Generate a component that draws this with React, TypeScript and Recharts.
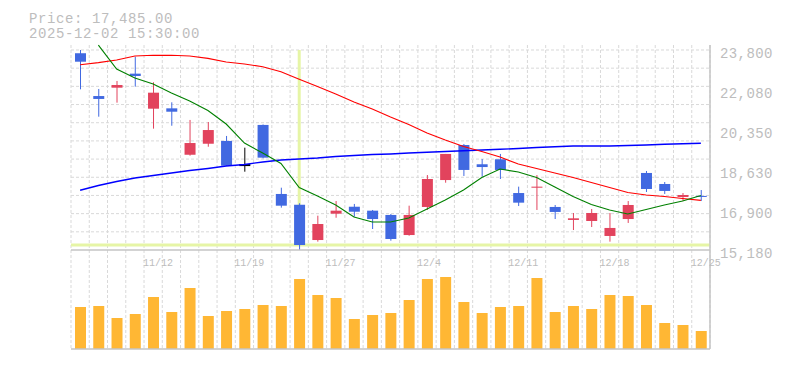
import React from 'react';
import { ComposedChart, Bar, Line, XAxis, YAxis, CartesianGrid, ReferenceLine } from 'recharts';

// trading days shown (35 sessions)
const dates = [
  '11/6', '11/7', '11/10', '11/11', '11/12', '11/13', '11/14', '11/17', '11/18', '11/19',
  '11/20', '11/21', '11/25', '11/26', '11/27', '11/28', '12/1', '12/2', '12/3', '12/4',
  '12/5', '12/8', '12/9', '12/10', '12/11', '12/12', '12/15', '12/16', '12/17', '12/18',
  '12/19', '12/22', '12/23', '12/24', '12/25',
];

const opens = [
  23660, 21815, 22175, 22780, 21270, 21285, 19285, 19760, 19880, 18840,
  20570, 17595, 17130, 15610, 16745, 17045, 16875, 16690, 15825, 17035,
  18195, 19705, 18875, 19090, 17635, 17865, 17035, 16475, 16430, 15785,
  16515, 18500, 18025, 17465, 17510,
];
const highs = [
  23800, 22120, 22465, 23510, 22410, 21545, 20785, 20695, 20095, 19590,
  20590, 17865, 17195, 16660, 17290, 17165, 16905, 16730, 17090, 18410,
  19320, 19750, 19100, 19320, 17910, 18410, 17120, 16775, 16945, 16775,
  17290, 18585, 18110, 17635, 17765,
];
const lows = [
  22105, 20925, 21530, 22220, 20410, 20535, 19245, 19630, 18800, 18555,
  19130, 17005, 15180, 15540, 16570, 16615, 16085, 15580, 15795, 16905,
  18080, 18370, 18340, 18240, 17075, 16905, 16515, 16040, 16170, 15540,
  16345, 17680, 17595, 17290, 17290,
];
const closes = [
  23295, 21690, 22290, 22680, 21960, 21140, 19790, 20350, 18815, 18840,
  19160, 17090, 15395, 16300, 16875, 16830, 16515, 15655, 16690, 18240,
  19320, 18630, 18755, 18630, 17220, 17910, 16820, 16545, 16775, 16130,
  17120, 17810, 17725, 17550, 17485,
];

// moving averages
const maShort = [
  null, 24010, 22980, 22595, 22335, 21945, 21600, 21190, 20610, 19790,
  19360, 18910, 17875, 17505, 17120, 16600, 16385, 16385, 16560, 16945,
  17335, 17765, 18305, 18670, 18540, 18305, 17895, 17485, 17140, 16905,
  16730, 16925, 17120, 17290, 17530,
];
const maMid = [
  23165, 23255, 23370, 23540, 23570, 23570, 23540, 23440, 23285, 23195,
  23080, 22865, 22535, 22225, 21905, 21560, 21255, 20910, 20590, 20225,
  19920, 19640, 19425, 19190, 18885, 18695, 18500, 18305, 18090, 17875,
  17660, 17550, 17485, 17400, 17320,
];
const maLong = [
  17755, 17960, 18130, 18285, 18390, 18500, 18605, 18695, 18800, 18865,
  18975, 19060, 19100, 19145, 19210, 19255, 19295, 19320, 19360, 19390,
  19425, 19460, 19490, 19520, 19555, 19600, 19630, 19660, 19660, 19660,
  19685, 19705, 19735, 19760, 19780,
];

const volumes = [
  4200, 4300, 3100, 3500, 5200, 3700, 6100, 3300, 3800, 4000,
  4400, 4300, 7000, 5400, 5100, 3000, 3400, 3600, 4900, 7000,
  7200, 4700, 3600, 4200, 4300, 7100, 3700, 4300, 4000, 5400,
  5300, 4400, 2600, 2400, 1800,
];

const xTickDates = ['11/12', '11/19', '11/27', '12/4', '12/11', '12/18', '12/25'];
const yTickValues = [15180, 16904, 18628, 20352, 22076, 23800];
const yTickLabels = ['15,180', '16,900', '18,630', '20,350', '22,080', '23,800'];

const priceLabel = 'Price: 17,485.00';
const timeLabel = '2025-12-02 15:30:00';

const UP = '#e2435d';
const DOWN = '#4169e1';
const FLAT = '#000000';
const VOL = '#ffb734';
const GRID = '#d9d9d9';
const AXIS = '#c4c4c4';
const TEXT = '#bdbdbd';
const CROSS = '#e6f5a6';
const FONT = '"Liberation Mono", "DejaVu Sans Mono", monospace';

const W = 785;
const PLOT_LEFT = 71;
const AXIS_W = 75;
const N = dates.length;
const PLOT_W = W - PLOT_LEFT - AXIS_W;
const BAND = PLOT_W / N;

const Y_MIN = 15180;
const Y_MAX = 23800;
const Y_TOP = 24015;
const gridLevels = Array.from({ length: 11 }, (_, j) => Y_MIN + ((j + 1) * (Y_MAX - Y_MIN)) / 11);

const data = dates.map((date, i) => ({
  date,
  open: opens[i],
  high: highs[i],
  low: lows[i],
  close: closes[i],
  range: [lows[i], highs[i]],
  maShort: maShort[i],
  maMid: maMid[i],
  maLong: maLong[i],
  volume: volumes[i],
}));

const crossDate = dates[12];
const crossPrice = closes[12];

const bandLines = ({ offset }: any) => {
  const left = offset?.left ?? PLOT_LEFT;
  const width = offset?.width ?? PLOT_W;
  return Array.from({ length: N + 1 }, (_, k) => left + (k * width) / N);
};

// horizontal grid: 11 equal rows between the bottom and top ticks
const priceLines = ({ offset }: any) => {
  const top = offset?.top ?? 45;
  const h = offset?.height ?? 205;
  return gridLevels.map((v) => top + (h * (Y_TOP - v)) / (Y_TOP - Y_MIN));
};

const Candle = (props: any) => {
  const { x, y, width, height, payload } = props;
  const { open, close, high, low } = payload;
  const unit = high > low ? height / (high - low) : 0;
  const yO = y + (high - open) * unit;
  const yC = y + (high - close) * unit;
  const color = close > open ? UP : close < open ? DOWN : FLAT;
  const top = Math.min(yO, yC);
  const bodyH = Math.max(Math.abs(yC - yO), close === open ? 2 : 1);
  const cx = x + width / 2;
  return (
    <g>
      <line x1={cx} x2={cx} y1={y} y2={y + height} stroke={color} strokeWidth={1} />
      <rect x={x} y={close === open ? top - 1 : top} width={width} height={bodyH} fill={color} />
    </g>
  );
};

const DateTick = ({ x, y, payload }: any) => (
  <text x={x - BAND / 2 - 1} y={y + 16} fill={TEXT} fontSize={10} fontFamily={FONT} textAnchor="start">
    {payload.value}
  </text>
);

const PriceTick = ({ x, y, payload }: any) => (
  <text x={x} y={y + 3} dy="0.35em" fill={TEXT} fontSize={14} letterSpacing={0.4} fontFamily={FONT} textAnchor="start">
    {yTickLabels[yTickValues.indexOf(payload.value)]}
  </text>
);

export default function App() {
  return (
    <div style={{ position: 'absolute', left: 0, top: 0, width: W, height: 370, background: '#fff' }}>
      <div style={{ position: 'absolute', left: 0, top: 250 }}>
        <ComposedChart width={W} height={102} data={data} margin={{ top: 0, right: 0, bottom: 0, left: PLOT_LEFT }}>
          <CartesianGrid horizontal={false} stroke={GRID} strokeDasharray="3 2" verticalCoordinatesGenerator={bandLines} />
          <XAxis dataKey="date" height={3} tick={false} tickLine={false} axisLine={{ stroke: AXIS, strokeWidth: 1.5 }} />
          <YAxis orientation="right" width={AXIS_W} domain={[0, 9900]} tick={false} tickLine={false} axisLine={{ stroke: AXIS, strokeWidth: 1.5 }} />
          <Bar dataKey="volume" fill={VOL} barSize={11} isAnimationActive={false} />
        </ComposedChart>
      </div>
      <div style={{ position: 'absolute', left: 0, top: 0 }}>
        <ComposedChart width={W} height={275} data={data} margin={{ top: 45, right: 0, bottom: 0, left: PLOT_LEFT }}>
          <CartesianGrid
            stroke={GRID}
            strokeDasharray="3 2"
            verticalCoordinatesGenerator={bandLines}
            horizontalCoordinatesGenerator={priceLines}
          />
          <XAxis
            dataKey="date"
            height={25}
            ticks={xTickDates}
            interval={0}
            tick={<DateTick />}
            tickLine={false}
            tickSize={0}
            tickMargin={0}
            axisLine={{ stroke: AXIS, strokeWidth: 1.5 }}
          />
          <YAxis
            orientation="right"
            width={AXIS_W}
            domain={[Y_MIN, Y_TOP]}
            ticks={yTickValues}
            interval={0}
            tick={<PriceTick />}
            tickLine={false}
            tickSize={0}
            tickMargin={10}
            axisLine={{ stroke: AXIS, strokeWidth: 1.5 }}
          />
          <ReferenceLine y={crossPrice} stroke={CROSS} strokeWidth={3} zIndex={50} />
          <ReferenceLine
            segment={[
              { x: crossDate, y: Y_MAX },
              { x: crossDate, y: crossPrice },
            ]}
            stroke={CROSS}
            strokeWidth={3}
            zIndex={50}
          />
          <Bar dataKey="range" barSize={11} shape={(p: any) => <Candle {...p} />} isAnimationActive={false} />
          <Line dataKey="maLong" stroke="#0000ff" strokeWidth={1.4} dot={false} isAnimationActive={false} />
          <Line dataKey="maMid" stroke="#ff0000" strokeWidth={1.1} dot={false} isAnimationActive={false} />
          <Line dataKey="maShort" stroke="#008000" strokeWidth={1.1} dot={false} isAnimationActive={false} />
        </ComposedChart>
      </div>
      <div
        style={{
          position: 'absolute',
          left: 29,
          top: 11.5,
          fontFamily: FONT,
          fontSize: 14,
          lineHeight: '15px',
          letterSpacing: 0.6,
          color: TEXT,
          whiteSpace: 'pre',
        }}
      >
        <div>{priceLabel}</div>
        <div>{timeLabel}</div>
      </div>
    </div>
  );
}
